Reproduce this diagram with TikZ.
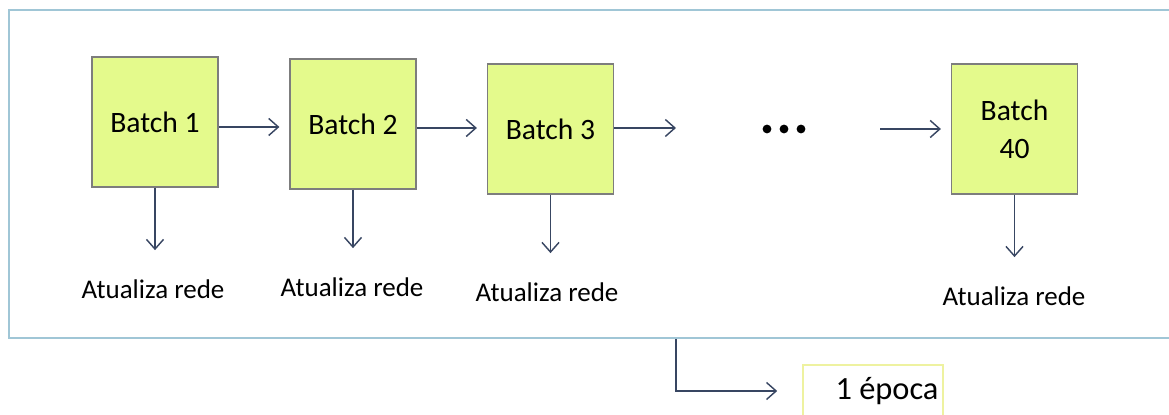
\documentclass[tikz,border=0pt]{standalone}
\usepackage{fontspec}
\setmainfont{Carlito}
\usepackage{xcolor}
\usetikzlibrary{arrows.meta, positioning}

\definecolor{batchfill}{RGB}{228,250,140}
\definecolor{batchline}{RGB}{125,125,125}
\definecolor{framecol}{RGB}{160,198,214}
\definecolor{arrowcol}{RGB}{56,70,98}
\definecolor{epocaline}{RGB}{238,242,160}

\begin{document}
\begin{tikzpicture}[
    x=0.5pt, y=-0.5pt,
    >={Straight Barb[length=4.8pt, width=8.5pt]},
    batch/.style={rectangle, draw=batchline, line width=0.6pt, fill=batchfill,
                  minimum width=63pt, minimum height=65pt, align=center,
                  font=\fontsize{14.8}{17}\selectfont},
    update/.style={inner sep=0pt, font=\fontsize{13.5}{16}\selectfont},
    arr/.style={->, draw=arrowcol, line width=0.72pt}
]
  \useasboundingbox (0,0) rectangle (1169,415);

  % outer frame (runs off the right edge)
  \node[draw=framecol, line width=1pt, minimum width=585.5pt, minimum height=164pt,
        inner sep=0pt] (frame) at (594.5,174) {};

  % batches
  \node[batch] (b1)  at (155,122)   {Batch 1};
  \node[batch] (b2)  at (353,124)   {Batch 2};
  \node[batch] (b3)  at (550.5,129) {Batch 3};
  \node[batch] (b40) at (1014.5,129) {Batch\\[2pt]40};

  % network updates
  \node[update] (u1)  at (153,289)  {Atualiza rede};
  \node[update] (u2)  at (352,287)  {Atualiza rede};
  \node[update] (u3)  at (547,292)  {Atualiza rede};
  \node[update] (u40) at (1014,296) {Atualiza rede};

  % gap between batch 3 and batch 40
  \coordinate (gapl) at (676,128);
  \coordinate (gapr) at (880,129);
  \foreach \x in {767,784,801}
    \fill (\x,129) circle (2.2pt);

  % epoch
  \node[draw=epocaline, line width=0.8pt, fill=white, minimum width=70pt,
        minimum height=26pt, inner xsep=0pt,
        font=\fontsize{16.2}{19}\selectfont] (epoca) at (873,391) {\hspace*{14pt}1 época};

  % batch to batch
  \draw[arr, shorten >=5pt] ([yshift=-2.5pt]b1.east) -- ([yshift=-2.5pt]b1.east -| b2.west);
  \draw[arr, shorten >=5pt] ([yshift=-2pt]b2.east) -- ([yshift=-2pt]b2.east -| b3.west);
  \draw[arr] (b3.east |- gapl) -- (gapl);
  \draw[arr, shorten >=5pt] (gapr) -- (gapr -| b40.west);

  % batch to update
  \path[arr, shorten >=14.5pt]
    (b1) edge (b1 |- u1.north)
    (b2) edge (b2 |- u2.north)
    (b3) edge (b3 |- u3.north)
    (b40) edge (b40 |- u40.north);

  % end of epoch
  \draw[arr, shorten >=12.5pt] (gapl |- frame.south) |- (epoca);
\end{tikzpicture}
\end{document}
